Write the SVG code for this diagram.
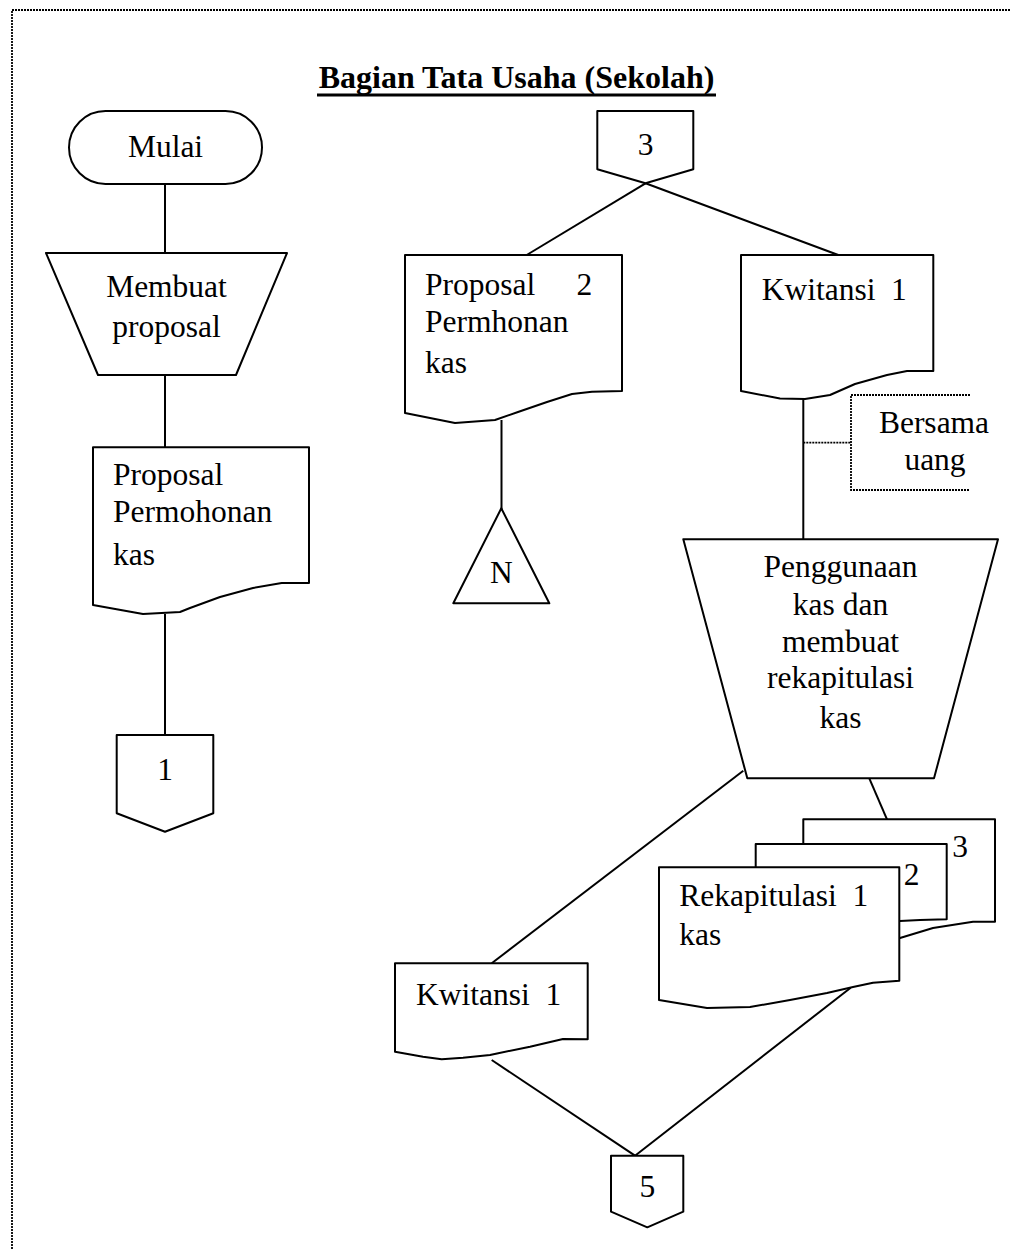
<svg xmlns="http://www.w3.org/2000/svg" width="1011" height="1249" viewBox="0 0 1011 1249">
  <style>
    .shape { fill: #ffffff; stroke: #000000; stroke-width: 2; stroke-linejoin: round; }
    .line { fill: none; stroke: #000000; stroke-width: 2; }
    .dash { fill: none; stroke: #000000; stroke-width: 1.8; stroke-dasharray: 2 1; }
    text { font-family: "Liberation Serif", "Times New Roman", serif; font-size: 31.5px; fill: #000000; }
    .mid { text-anchor: middle; }
    .title { font-size: 32px; font-weight: bold; }
  </style>

  <rect width="1011" height="1249" fill="#ffffff"/>

  <!-- page frame (only the top and left edges fall inside the sheet) -->
  <path class="dash" d="M12,1249 V10 H1011" stroke-width="2"/>

  <!-- lane title -->
  <g id="title">
    <text class="title mid" x="516.5" y="88">Bagian Tata Usaha (Sekolah)</text>
    <line x1="317" y1="95" x2="716" y2="95" stroke="#000" stroke-width="3"/>
  </g>

  <!-- connectors -->
  <g id="connectors">
    <line class="line" x1="165" y1="184" x2="165" y2="253"/>
    <line class="line" x1="165" y1="375" x2="165" y2="447"/>
    <line class="line" x1="165" y1="614" x2="165" y2="735"/>
    <line class="line" x1="645.5" y1="183.3" x2="526.7" y2="255"/>
    <line class="line" x1="645.5" y1="183.3" x2="838.3" y2="255"/>
    <line class="line" x1="501.5" y1="420" x2="501.5" y2="517"/>
    <line class="line" x1="803.3" y1="396" x2="803.3" y2="547"/>
    <line class="dash" x1="803.3" y1="442.7" x2="851" y2="442.7"/>
    <line class="line" x1="743.3" y1="770.7" x2="491.7" y2="963.3"/>
    <line class="line" x1="869.3" y1="778.3" x2="887" y2="819.3"/>
    <line class="line" x1="850.7" y1="987.7" x2="635" y2="1155.7"/>
    <line class="line" x1="491.7" y1="1060" x2="635" y2="1155.7"/>
  </g>

  <!-- start terminator -->
  <g id="mulai">
    <rect class="shape" x="69" y="111" width="193" height="73" rx="36.5" ry="36.5"/>
    <text class="mid" x="165.5" y="156.5">Mulai</text>
  </g>

  <!-- manual operation: make proposal -->
  <g id="membuat-proposal">
    <polygon class="shape" points="46,253 287,253 236,375 98,375"/>
    <text class="mid" x="166.5" y="297">Membuat</text>
    <text class="mid" x="166.5" y="337">proposal</text>
  </g>

  <!-- document: proposal -->
  <g id="doc-proposal">
    <path class="shape" d="M93,447.3 H309 V583 L281.7,583 L253,588 L220,597 L190,608 L180,612 L143,614 L93,605 Z"/>
    <text x="113" y="485">Proposal</text>
    <text x="113" y="522">Permohonan</text>
    <text x="113" y="565">kas</text>
  </g>

  <!-- off-page connector 1 -->
  <g id="conn-1">
    <polygon class="shape" points="116.7,735 213.3,735 213.3,813.3 165,831.7 116.7,813.3"/>
    <text class="mid" x="165" y="780">1</text>
  </g>

  <!-- off-page connector 3 -->
  <g id="conn-3">
    <polygon class="shape" points="597.3,111 693.3,111 693.3,169.3 645.5,183.3 597.3,169.3"/>
    <text class="mid" x="645.5" y="155">3</text>
  </g>

  <!-- document: proposal copy 2 -->
  <g id="doc-proposal-2">
    <path class="shape" d="M405,255 H622 V391 L592,391.7 L572,394 L547,402 L518,412 L495,420 L455,423 L405,413 Z"/>
    <text x="425" y="295">Proposal</text>
    <text x="576.5" y="295">2</text>
    <text x="425" y="331.7">Permhonan</text>
    <text x="425" y="373">kas</text>
  </g>

  <!-- archive N -->
  <g id="arsip-n">
    <polygon class="shape" points="501.3,508.3 549.3,603.3 453.3,603.3"/>
    <text class="mid" x="501.3" y="583.3">N</text>
  </g>

  <!-- document: receipt 1 -->
  <g id="doc-kwitansi">
    <path class="shape" d="M741,255 H933.3 V371 L907,371 L887,375 L855,384 L830,395 L805,399 L780,398.5 L741,391 Z"/>
    <text x="761.7" y="300">Kwitansi</text>
    <text x="891" y="300">1</text>
  </g>

  <!-- annotation -->
  <g id="note-bersama-uang">
    <path class="dash" d="M970,395 H851 V490 H970"/>
    <text class="mid" x="934" y="433.3">Bersama</text>
    <text class="mid" x="935" y="470">uang</text>
  </g>

  <!-- manual operation: use cash and make recap -->
  <g id="penggunaan-kas">
    <polygon class="shape" points="683.3,539.3 998,539.3 934,778.3 747.3,778.3"/>
    <text class="mid" x="840.5" y="576.7">Penggunaan</text>
    <text class="mid" x="840.5" y="614.5">kas dan</text>
    <text class="mid" x="840.5" y="651.5">membuat</text>
    <text class="mid" x="840.5" y="688.3">rekapitulasi</text>
    <text class="mid" x="840.5" y="727.5">kas</text>
  </g>

  <!-- multi-copy document: cash recap 1, 2, 3 -->
  <g id="doc-rekapitulasi">
    <path class="shape" d="M803.3,819.3 H995 V921.7 L973,921.7 L933,928 L900,938 L860,948 L830,950 L803.3,944 Z"/>
    <path class="shape" d="M755.7,844 H946.7 V919.3 L920,920 L900,921 L870,928 L840,938 L810,943 L780,942 L755.7,936 Z"/>
    <path class="shape" d="M659,867.3 H899.3 V980.7 L873,982.7 L853,987 L827,993 L790,1000 L750,1007 L707,1008 L659,1000 Z"/>
    <text x="960" y="856.7" class="mid">3</text>
    <text x="911.7" y="885" class="mid">2</text>
    <text x="679.3" y="906">Rekapitulasi</text>
    <text x="852.5" y="906">1</text>
    <text x="679.3" y="945">kas</text>
  </g>

  <!-- document: receipt 1 (returned) -->
  <g id="doc-kwitansi-2">
    <path class="shape" d="M395,963.3 H587.7 V1039.3 L563,1039 L530,1046.7 L490,1055 L463,1057.7 L441.7,1059.3 L423,1056.7 L395,1051.7 Z"/>
    <text x="416" y="1005">Kwitansi</text>
    <text x="545.5" y="1005">1</text>
  </g>

  <!-- off-page connector 5 -->
  <g id="conn-5">
    <polygon class="shape" points="611,1155.7 683.3,1155.7 683.3,1211.7 647.3,1227.3 611,1211.7"/>
    <text class="mid" x="647.3" y="1196.7">5</text>
  </g>
</svg>
